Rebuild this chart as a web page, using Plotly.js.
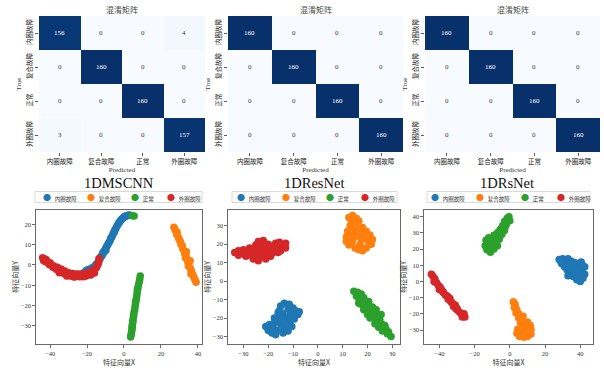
<!DOCTYPE html>
<html><head><meta charset="utf-8">
<script src="https://cdn.plot.ly/plotly-3.0.1.min.js"></script>
<style>html,body{margin:0;padding:0;background:#fff}#chart{width:604px;height:368px}</style>
</head><body><div id="chart"></div>
<script>
// ---------- data ----------
const classes = ['内圈故障','复合故障','正常','外圈故障'];
const modelNames = ['1DMSCNN','1DResNet','1DRsNet'];
const cmMSCNN = [[156,0,0,4],[0,160,0,0],[0,0,160,0],[3,0,0,157]];
const cmResNet = [[160,0,0,0],[0,160,0,0],[0,0,160,0],[0,0,0,160]];
const cmRsNet = [[160,0,0,0],[0,160,0,0],[0,0,160,0],[0,0,0,160]];
const classColors = ['#1f77b4','#ff7f0e','#2ca02c','#d62728'];

// 1DMSCNN t-SNE points
const msInnerX = [-21,-20,-19.5,-18.5,-18,-17,-16.5,-15.5,-15,-14,-13.5,-13,-12.5,-12,-11.5,-11,-10.5,-10,-9.5,-9,-8.5,-8,-7.5,-7,-6.5,-6,-5.5,-5,-4.5,-4,-3.5,-3,-2.5,-2,-1.5,-1,-0.5,0,0.5,1,1.5,2,2.5,3,-9.8,-7.2,-5.2,-11.3];
const msInnerY = [-3.2,-2.5,-3.5,-2,-2.8,-1.5,-1,-0.5,0.5,1,2.5,3,4,4.5,5.8,6.5,7,8,8.8,9.5,10.5,11.2,12,13.2,14,15,16,17,17.8,18.8,19.5,20.3,21,21.6,22.2,22.7,23.1,23.5,23.8,24,24.2,24.3,24.4,24.5,7.2,12.8,16.2,5.5];
const msCompX = [27,27.5,28,28.5,28.8,29.5,29.8,30.5,30.8,31.5,31.8,32.5,32.8,33.5,33.2,34,34.5,35,34.8,35.5,36,36.5,36.2,37,37.5,38,38.5,39,33.8,35.8];
const msCompY = [18.5,17.5,16.5,15,16,13.5,12.5,11.5,10,9.5,8,7,5.5,5,3.5,3,1.5,1,-0.5,-1,-2,-3,-4.5,-4.5,-5.5,-6.5,-7.5,-8.5,6.5,2];
const msNormX = [8.8,8.5,8.2,7.8,7.5,7.2,7,6.8,6.5,6.2,6,5.8,5.5,5.2,5,4.8,4.6,4.5,4.3,4.2,4,3.8,3.6,4.8,5.2,4.4,7.3,6.3,4.5,5.5];
const msNormY = [-5.5,-7,-8.5,-10,-11.5,-13,-14.5,-16,-17.5,-19,-20.5,-22,-23,-24.5,-26,-27.5,-29,-30.5,-31.5,-32.5,-33.5,-34.5,-35.5,-28,-25,-30,-12,-18,24.2,24];
const msOuterX = [-44,-43.5,-43,-42.5,-42,-41,-40.5,-40,-39,-38.5,-38,-37,-36.5,-36,-35,-34.5,-34,-33,-32.5,-32,-31,-30.5,-30,-29,-28.5,-28,-27,-26.5,-26,-25,-24.5,-24,-23,-22.5,-22,-21,-20.5,-20,-19,-18.5,-18,-17,-16.5,-16,-15,-14.5,-14,-13.5,-13.5,-31,-27,-23,-35];
const msOuterY = [3.5,2.2,3,1.5,2.5,1.2,0.2,1,-0.2,-1.2,-0.5,-1.5,-2.3,-1.2,-2.5,-3.2,-2,-3.5,-4.2,-3,-4.5,-5.2,-3.8,-4.8,-5.6,-4.2,-5.2,-5.8,-4.5,-5.5,-4.5,-5.8,-5.2,-4.3,-5.8,-4.8,-5.5,-4,-4.5,-3.5,-5,-3.5,-2.5,-4,-1.5,-0.5,0.5,2,3.2,-5.5,-6,-5,-3.8];

// 1DResNet t-SNE points
const rnInnerX = [-21,-20,-19.5,-18.5,-18,-17,-17,-16,-16,-15.5,-15,-15,-14,-14,-13.5,-13,-13,-12,-12,-11.5,-11,-10.5,-10,-9.5,-9,-8,-7.5,-16,-17.5,-12,-19,-18,-14,-11,-15,-10];
const rnInnerY = [-24.5,-26.5,-23.5,-28,-25,-29,-22,-26.5,-19,-16,-23,-13.5,-28,-17.5,-12,-20,-25,-15,-22.5,-12.5,-18,-24.5,-14.5,-20.5,-16,-18,-16.5,-17,-20,-27,-27,-23,-21,-21,-26,-17];
const rnCompX = [12.5,14,15.5,13.5,15,16.5,14,16,12,11.5,13,11.5,12.5,14,15,16.5,18,19.5,20.5,22,21,19.5,18,17.5,19,20.5,16,14.5,18,17,13,15.5,17,21.5,13.5];
const rnCompY = [34.5,35.5,34,32,31,32.5,29,28.5,27,24,25.5,21.5,19.5,22,18,17,16.5,18,20,22.5,25,27,26,22.5,23,23,24.5,25.5,29,20,30,29.5,27.5,20,20.5];
const rnNormX = [14.5,16,15.5,17.5,17,18.5,16.5,19,20.5,20,18.5,22,23.5,22,21,24,25,23,24.5,26,26,27.5,28,29.5,20,18,25.5,27,16.5,19.5,22.5,23,26.5,28.5];
const rnNormY = [-5.5,-6,-8,-7,-10,-9,-12,-12.5,-11,-15,-15.5,-14,-15.5,-18,-20,-19,-21,-23,-25,-23.5,-27,-26,-28.5,-30,-18,-13,-18,-24,-9.5,-13.5,-16.5,-20.5,-25,-27.5];
const rnOuterX = [-33.5,-32,-32,-30.5,-30,-29,-28.5,-27.5,-27,-26,-26,-25,-25,-24,-24,-24,-23,-23,-22.5,-22,-21.5,-21,-20.5,-20,-19.5,-19,-18,-18,-17,-17,-16,-15.5,-15,-14,-13,-13,-28,-31,-22,-16,-29.5,-25.5,-20.5,-14.5,-23,-18.5];
const rnOuterY = [15.5,16.5,14,15,17,13.5,16,18,14,16.5,12,19.5,14.5,21.5,17,11,19,13.5,15.5,22,18,12,15,20,17,13.5,19,15.5,20.5,17,18.5,21,16.5,19.5,18,20.5,15,16,17,15.5,15.5,17,17.5,18,16,18];

// 1DRsNet t-SNE points
const rsInnerX = [28,29.5,30,31,31.5,32.5,33,33.5,34,35,35.5,36,37,37.5,38,39,39.5,40,40.5,41,41.5,42.5,42.5,29,33,36.5,39,34.5,41];
const rsInnerY = [13.5,11,14,9,12.5,7,14,10,5,12.5,8,3,11.5,6,1,9.5,4,0,12,7,2,9,4.5,12,3.5,9,6.5,11,10.5];
const rsCompX = [2,3,2.5,4,3.5,5,5,6.5,7.5,8,10,11.5,12,10.5,9,7,6,4,5.5,8,10,12,8.5,4.5,3,6,9,11,7];
const rsCompY = [-12.5,-14,-16,-17.5,-19.5,-20,-22.5,-23,-21.5,-25,-25,-27,-29.5,-31,-29,-28,-31,-32,-34,-34.5,-34,-32.5,-31.5,-29.5,-15.5,-25.5,-26.5,-29,-32.5];
const rsNormX = [-14,-13,-12.5,-11.5,-11,-10,-10,-9,-8.5,-8,-7,-7,-6,-5.5,-4.5,-4,-3,-3,-2,-1.5,-0.5,0,-12,-9,-13.5,-6.5,-11,-8,-5,-2.5];
const rsNormY = [22,19.5,24.5,21.5,18,26,22.5,20,24,27.5,22,30,26,32,29,34.5,31.5,37,35,39,40,37.5,27,28.5,25.5,28,24.5,25.5,30.5,34];
const rsOuterX = [-44.5,-43.5,-42.5,-43,-41.5,-40.5,-39.5,-40,-38.5,-37.5,-36.5,-35.5,-35,-34,-33.5,-32.5,-32,-31,-30,-29.5,-28.5,-27.5,-26.5,-25.5,-26,-42,-38,-34.5,-30.5,-27];
const rsOuterY = [4.5,3,1.5,0,-1,-2.5,-3.5,-5,-5.5,-7,-8.5,-9,-11,-10.5,-12.5,-13.5,-15.5,-14.5,-16.5,-18,-19,-20,-21.5,-22,-20,-0.5,-6.5,-10,-17,-22];

// ---------- layout helpers ----------
const W = 604, H = 368;
const px = v => v / W;
const py = v => 1 - v / H;

const blues = [[0,'#f7fbff'],[0.125,'#deebf7'],[0.25,'#c6dbef'],[0.375,'#9ecae1'],[0.5,'#6baed6'],[0.625,'#4292c6'],[0.75,'#2171b5'],[0.875,'#08519c'],[1,'#08306b']];

const cms = [cmMSCNN, cmResNet, cmRsNet];
const hmX = [[39,205],[228,403],[425,600]];
const hmY = [16,152];
const scX = [[36,202],[228,400],[424,593]];
const scY = [210,344];
const scRanges = [
  {x:[-47.6,42.2], y:[-38.9,27], dx:20, dy:10},
  {x:[-36.2,33.1], y:[-34,38.5], dx:10, dy:10},
  {x:[-48.7,47.2], y:[-38.6,44.1], dx:20, dy:10}
];
const pts = [
  [[msInnerX,msInnerY],[msCompX,msCompY],[msNormX,msNormY],[msOuterX,msOuterY]],
  [[rnInnerX,rnInnerY],[rnCompX,rnCompY],[rnNormX,rnNormY],[rnOuterX,rnOuterY]],
  [[rsInnerX,rsInnerY],[rsCompX,rsCompY],[rsNormX,rsNormY],[rsOuterX,rsOuterY]]
];
const legBox = [[35,202],[232,397],[427,590]];
const legOff = [[9,53,97,133],[6,51,95,130],[5,50,95,131]];

const cjk = '"Noto Sans CJK SC", sans-serif';
const serif = '"Liberation Serif", "DejaVu Serif", serif';

const data = [];
const layout = {
  width: W, height: H,
  margin: {l:0, r:0, t:0, b:0},
  paper_bgcolor: '#fff', plot_bgcolor: '#fff',
  showlegend: false,
  annotations: [], shapes: []
};

for (let k = 0; k < 3; k++) {
  const hx = 'x' + (k === 0 ? '' : (k+1));
  const hy = 'y' + (k === 0 ? '' : (k+1));
  const hxa = 'xaxis' + (k === 0 ? '' : (k+1));
  const hya = 'yaxis' + (k === 0 ? '' : (k+1));
  const zmax = Math.max(...cms[k].flat());
  data.push({
    type: 'heatmap', z: cms[k], x: classes, y: classes,
    xaxis: hx, yaxis: hy, colorscale: blues, zmin: 0, zmax: zmax,
    showscale: false, hoverinfo: 'skip'
  });
  // cell value labels
  cms[k].forEach((row, i) => row.forEach((v, j) => {
    layout.annotations.push({
      text: String(v), xref: hx, yref: hy, x: classes[j], y: classes[i],
      showarrow: false, xanchor: 'center', yanchor: 'middle',
      font: {family: serif, size: 7, color: v > zmax / 2 ? '#ffffff' : '#3a3a3a'}
    });
  }));
  layout[hxa] = {
    domain: [px(hmX[k][0]), px(hmX[k][1])], anchor: hy,
    ticks: 'outside', ticklen: 3, tickwidth: 0.8, tickcolor: '#333',
    tickfont: {family: cjk, size: 6.5, color: '#222'},
    showgrid: false, zeroline: false, showline: false,
    title: {text: 'Predicted', font: {family: serif, size: 7, color: '#333'}, standoff: 1}
  };
  layout[hya] = {
    domain: [py(hmY[1]), py(hmY[0])], anchor: hx,
    autorange: 'reversed', tickangle: -90,
    ticks: 'outside', ticklen: 3, tickwidth: 0.8, tickcolor: '#333',
    tickfont: {family: cjk, size: 6.5, color: '#222'},
    showgrid: false, zeroline: false, showline: false,
    title: {text: 'True', font: {family: serif, size: 7, color: '#333'}, standoff: 1}
  };
  layout.annotations.push({
    text: '混淆矩阵', xref: 'paper', yref: 'paper',
    x: px((hmX[k][0] + hmX[k][1]) / 2), y: py(9), xanchor: 'center', yanchor: 'middle',
    showarrow: false, font: {family: cjk, size: 8, color: '#444'}
  });

  // scatter subplot
  const n = k + 4;
  const sx = 'x' + n, sy = 'y' + n;
  for (let c = 0; c < 4; c++) {
    data.push({
      type: 'scatter', mode: 'markers', name: classes[c],
      x: pts[k][c][0], y: pts[k][c][1], xaxis: sx, yaxis: sy,
      marker: {size: 7.5, color: classColors[c], line: {width: 0}},
      hoverinfo: 'skip', showlegend: false
    });
  }
  const r = scRanges[k];
  layout['xaxis' + n] = {
    domain: [px(scX[k][0]), px(scX[k][1])], anchor: sy, range: r.x, dtick: r.dx,
    showline: true, mirror: true, linecolor: '#444', linewidth: 0.8,
    ticks: 'outside', ticklen: 3, tickwidth: 0.8, tickcolor: '#444',
    tickfont: {family: serif, size: 6.5, color: '#333'},
    showgrid: false, zeroline: false,
    title: {text: '特征向量X', font: {family: cjk, size: 7, color: '#333'}, standoff: 1}
  };
  layout['yaxis' + n] = {
    domain: [py(scY[1]), py(scY[0])], anchor: sx, range: r.y, dtick: r.dy,
    showline: true, mirror: true, linecolor: '#444', linewidth: 0.8,
    ticks: 'outside', ticklen: 3, tickwidth: 0.8, tickcolor: '#444',
    tickfont: {family: serif, size: 6.5, color: '#333'},
    showgrid: false, zeroline: false,
    title: {text: '特征向量Y', font: {family: cjk, size: 7, color: '#333'}, standoff: 1}
  };
  // model title
  layout.annotations.push({
    text: modelNames[k], xref: 'paper', yref: 'paper',
    x: px((scX[k][0] + scX[k][1]) / 2 + (k === 2 ? -2 : 0)), y: py(183), xanchor: 'center', yanchor: 'middle',
    showarrow: false, font: {family: serif, size: 14.5, color: '#111'}
  });
  // legend box
  layout.shapes.push({
    type: 'rect', xref: 'paper', yref: 'paper',
    x0: px(legBox[k][0]), x1: px(legBox[k][1]), y0: py(202.5), y1: py(191.5),
    line: {color: '#d0d0d0', width: 0.8}, fillcolor: '#fff'
  });
  for (let c = 0; c < 4; c++) {
    layout.annotations.push({
      text: '<span style="color:' + classColors[c] + ';font-size:8px">●</span>   ' + classes[c],
      xref: 'paper', yref: 'paper',
      x: px(legBox[k][0] + legOff[k][c] - 3), y: py(197), xanchor: 'left', yanchor: 'middle',
      showarrow: false, font: {family: cjk, size: 5.5, color: '#333'}
    });
  }
}

Plotly.newPlot('chart', data, layout, {displayModeBar: false, staticPlot: true});
</script>
</body></html>
